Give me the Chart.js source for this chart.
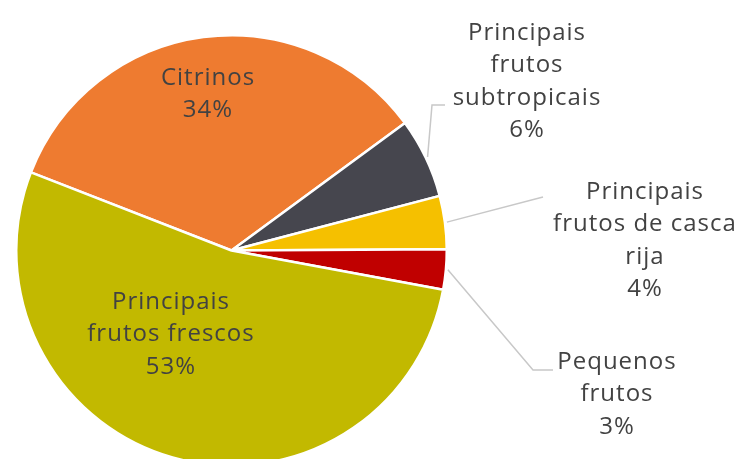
<!DOCTYPE html>
<html>
<head>
<meta charset="utf-8">
<script src="https://cdn.jsdelivr.net/npm/chart.js@4/dist/chart.umd.min.js"></script>
<style>
  html, body { margin: 0; padding: 0; background: #ffffff; }
  #wrap { width: 746px; height: 459px; overflow: hidden; }
</style>
</head>
<body>
<div id="wrap"><canvas id="fruitPie" width="746" height="467"></canvas></div>
<script>
"use strict";

var categories = ["Citrinos", "Principais frutos subtropicais", "Principais frutos de casca rija", "Pequenos frutos", "Principais frutos frescos"];
var shares = [34, 6, 4, 3, 53];
var sliceColors = ["#ee7b30", "#46464e", "#f5c000", "#c00000", "#c2b900"];
// how each category name wraps on the chart
var labelLines = [
    ["Citrinos"],
    ["Principais", "frutos", "subtropicais"],
    ["Principais", "frutos de casca", "rija"],
    ["Pequenos", "frutos"],
    ["Principais", "frutos frescos"]
];

// where the text blocks sit; outer ones get a grey leader line
var labelSpots = [
    { x: 208, y: 78, inside: true },
    { x: 527, y: 33, elbow: [432, 105], end: [445, 105] },
    { x: 645, y: 192, end: [543, 197] },
    { x: 617, y: 362, elbow: [533, 370], end: [553, 370] },
    { x: 171, y: 302, inside: true }
];

var lineHeight = 32.5;

/* Draws the category names + percentages, plus leader lines for the thin slices */
var sliceLabels = {
    id: "sliceLabels",
    afterDatasetsDraw: function(chart) {
        var ctx = chart.ctx;
        var arcs = chart.getDatasetMeta(0).data;
        ctx.save();
        ctx.font = "24px 'Open Sans'";
        ctx.letterSpacing = "1px";
        ctx.fillStyle = "#424242";
        ctx.textAlign = "center";
        ctx.textBaseline = "middle";

        arcs.forEach(function(arc, i) {
            var spot = labelSpots[i];
            var lines = labelLines[i].concat([shares[i] + "%"]);

            if (!spot.inside) {
                var p = arc.getProps(["x", "y", "startAngle", "endAngle", "outerRadius"], true);
                var mid = (p.startAngle + p.endAngle) / 2;
                var r = p.outerRadius + 2;
                ctx.beginPath();
                ctx.strokeStyle = "#c8c8c8";
                ctx.lineWidth = 1.5;
                ctx.moveTo(p.x + Math.cos(mid) * r, p.y + Math.sin(mid) * r);
                if (spot.elbow) ctx.lineTo(spot.elbow[0], spot.elbow[1]);
                ctx.lineTo(spot.end[0], spot.end[1]);
                ctx.stroke();
            }

            lines.forEach(function(txt, k) {
                ctx.fillText(txt, spot.x, spot.y + k * lineHeight);
            });
        });
        ctx.restore();
    }
};

// canvas runs a few px past the visible box so the pie bottom gets clipped
new Chart(document.getElementById("fruitPie"), {
    type: "pie",
    data: {
        labels: categories,
        datasets: [{
            data: shares,
            backgroundColor: sliceColors,
            borderColor: "#ffffff",
            borderWidth: 2.5
        }]
    },
    options: {
        responsive: false,
        animation: false,
        rotation: -68.7,
        layout: {
            padding: { left: 15, right: 298, top: 34, bottom: 0 }
        },
        plugins: {
            legend: { display: false },
            tooltip: { enabled: false }
        }
    },
    plugins: [sliceLabels]
});
</script>
</body>
</html>
